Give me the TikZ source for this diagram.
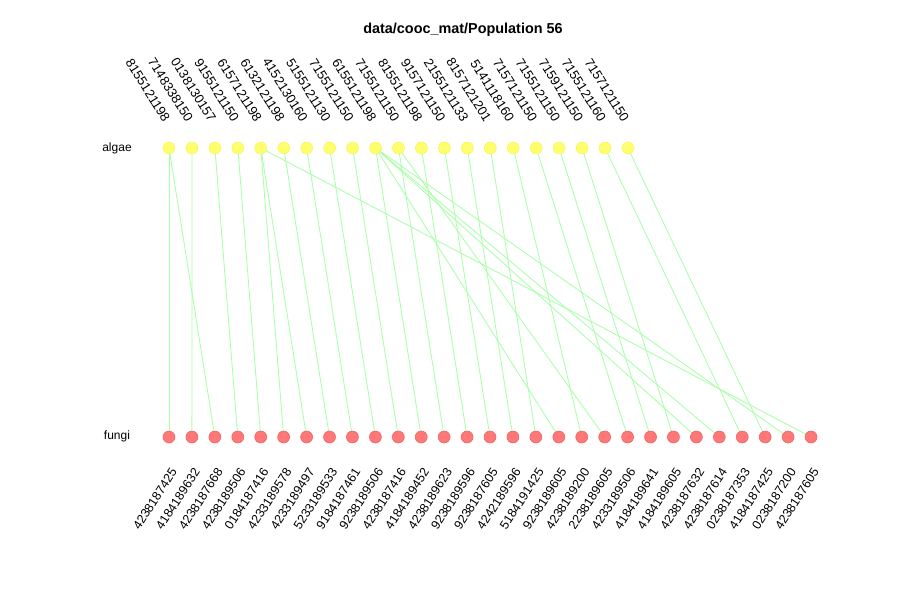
\documentclass[tikz,border=0pt]{standalone}
\usepackage{fontspec}
\setmainfont{Liberation Sans}
\usetikzlibrary{calc}
\definecolor{algfill}{RGB}{255,255,110}
\definecolor{algdraw}{RGB}{245,245,100}
\definecolor{funfill}{RGB}{255,120,120}
\definecolor{fundraw}{RGB}{240,95,95}
\definecolor{edgecol}{RGB}{170,255,170}
\begin{document}
\begin{tikzpicture}[x=0.75pt,y=-0.75pt,
  alg/.style={circle,fill=algfill,draw=algdraw,line width=0.4pt,minimum size=9pt,inner sep=0pt},
  fun/.style={circle,fill=funfill,draw=fundraw,line width=0.4pt,minimum size=9pt,inner sep=0pt},
  lnk/.style={draw=edgecol,line width=0.65pt},
  toplab/.style={font=\fontsize{9.8pt}{10pt}\selectfont,rotate=-58,anchor=east,inner sep=0pt},
  botlab/.style={font=\fontsize{9.4pt}{10pt}\selectfont,rotate=57,anchor=east,inner sep=0pt},
  grp/.style={font=\fontsize{9pt}{10pt}\selectfont},
  ttl/.style={font=\fontsize{10.8pt}{12pt}\selectfont\bfseries}]
\useasboundingbox (0,0) rectangle (900,600);
\node[ttl] (title) at (463,30) {data/cooc\_mat/Population 56};
\node[grp] (lalg) at (117,148) {algae};
\node[grp] (lfun) at (117,436) {fungi};
\foreach \i in {1,...,21} \coordinate (pa\i) at ({169+(\i-1)*22.95},148);
\foreach \i in {1,...,29} \coordinate (pf\i) at ({169+(\i-1)*22.93},437);
% edges
\foreach \a/\f in {1/1,1/3,2/2,3/4,4/5,5/6,5/7,5/29,6/8,7/9,8/10,9/11,10/12,10/18,10/24,10/25,10/28,11/13,11/20,12/14,13/15,14/16,15/17,16/19,17/21,18/22,19/23,20/26,21/27}
  \draw[lnk] (pa\a) -- (pf\f);
\foreach \i in {1,...,21} \node[alg] (a\i) at (pa\i) {};
\foreach \i in {1,...,29} \node[fun] (f\i) at (pf\i) {};
\begin{scope}
\clip (0,56) rectangle (900,528);
\foreach \i/\t in {1/8155121198,2/7148338150,3/0138130157,4/9155121150,5/6157121198,6/6132121198,7/4152130160,8/5155121130,9/7155121150,10/6155121198,11/7155121150,12/8155121198,13/9157121150,14/2155121133,15/8157121201,16/5141118160,17/7157121150,18/7155121150,19/7159121150,20/7155121160,21/7157121150}
  \node[toplab] (ta\i) at ($(pa\i)+(-2,-27)$) {\t};
\foreach \i/\t in {1/4238187425,2/4184189632,3/4238187668,4/4238189506,5/0184187416,6/4233189578,7/4233189497,8/5233189533,9/9184187461,10/9238189506,11/4238187416,12/4184189452,13/4238189623,14/9238189596,15/9238187605,16/4242189596,17/5184191425,18/9238189605,19/4238189200,20/2238189605,21/4233189506,22/4184189641,23/4184189605,24/4238187632,25/4238187614,26/0238187353,27/4184187425,28/0238187200,29/4238187605}
  \node[botlab] (tf\i) at ($(pf\i)+(5,32.5)$) {\t};
\end{scope}
\end{tikzpicture}
\end{document}
